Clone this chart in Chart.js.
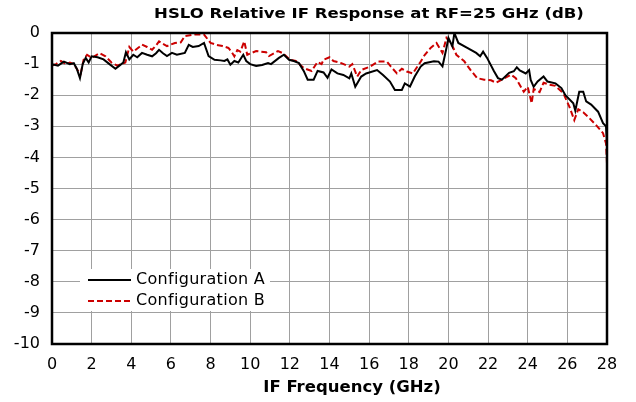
<!DOCTYPE html>
<html>
<head>
<meta charset="utf-8">
<script src="https://cdn.jsdelivr.net/npm/chart.js@4/dist/chart.umd.min.js"></script>
<style>
  html, body { margin: 0; padding: 0; background: #fff; }
  canvas { display: block; }
</style>
</head>
<body>
<canvas id="grafico" width="636" height="402"></canvas>
<script>
// Configuration A (linha preta)
const freqA = [0, 0.3, 0.6, 0.9, 1.1, 1.25, 1.41, 1.55, 1.7, 1.85, 2.0, 2.3, 2.6, 2.9, 3.2, 3.4, 3.6, 3.73, 3.9, 4.1,
  4.3, 4.54, 4.8, 5.05, 5.25, 5.4, 5.6, 5.8, 6.05, 6.3, 6.7, 6.9, 7.1, 7.4, 7.67, 7.9, 8.2, 8.5, 8.7, 8.85,
  9.0, 9.2, 9.4, 9.65, 9.8, 10.0, 10.3, 10.6, 10.9, 11.05, 11.45, 11.7, 11.96, 12.2, 12.46, 12.7, 12.9, 13.2, 13.4, 13.7,
  13.9, 14.1, 14.4, 14.7, 15.0, 15.1, 15.3, 15.6, 15.85, 16.4, 16.7, 17.05, 17.3, 17.65, 17.8, 18.06, 18.3, 18.6, 18.8, 19.27,
  19.5, 19.7, 19.9, 20.0, 20.2, 20.3, 20.5, 20.95, 21.4, 21.6, 21.75, 21.95, 22.3, 22.5, 22.7, 23.06, 23.3, 23.45, 23.6, 23.9,
  24.07, 24.15, 24.3, 24.5, 24.8, 25.0, 25.4, 25.7, 25.9, 26.3, 26.4, 26.6, 26.8, 26.95, 27.2, 27.55, 27.8, 27.95, 28.0];
const valA = [-1.0, -1.05, -0.92, -1.0, -0.97, -1.15, -1.45, -1.0, -0.8, -0.95, -0.75, -0.78, -0.85, -1.0, -1.15, -1.05, -0.95, -0.62, -0.85, -0.7,
  -0.78, -0.64, -0.7, -0.75, -0.65, -0.54, -0.65, -0.74, -0.64, -0.7, -0.64, -0.38, -0.45, -0.42, -0.32, -0.74, -0.86, -0.88, -0.9, -0.85,
  -1.02, -0.9, -0.95, -0.7, -0.9, -1.0, -1.06, -1.03, -0.97, -1.0, -0.8, -0.7, -0.86, -0.9, -0.97, -1.22, -1.5, -1.5, -1.22, -1.27,
  -1.44, -1.17, -1.3, -1.35, -1.46, -1.3, -1.73, -1.4, -1.3, -1.19, -1.35, -1.56, -1.83, -1.83, -1.62, -1.72, -1.4, -1.08, -0.97, -0.91,
  -0.92, -1.07, -0.48, -0.16, -0.43, 0.0, -0.32, -0.48, -0.64, -0.75, -0.6, -0.8, -1.23, -1.45, -1.5, -1.28, -1.23, -1.1, -1.2, -1.3,
  -1.19, -1.51, -1.73, -1.56, -1.4, -1.56, -1.62, -1.77, -2.0, -2.26, -2.5, -1.89, -1.89, -2.2, -2.3, -2.53, -2.9, -3.0, -3.55];

// Configuration B (linha vermelha tracejada)
const freqB = [0, 0.2, 0.45, 0.7, 0.9, 1.1, 1.3, 1.45, 1.6, 1.77, 2.0, 2.4, 2.7, 3.0, 3.3, 3.5, 3.7, 3.9, 4.1, 4.4,
  4.54, 4.8, 5.05, 5.25, 5.4, 5.6, 5.8, 6.2, 6.5, 6.7, 7.2, 7.67, 8.0, 8.3, 8.6, 8.9, 9.05, 9.2, 9.35, 9.5,
  9.7, 9.85, 10.3, 10.8, 10.95, 11.4, 11.65, 12.0, 12.3, 12.7, 13.1, 13.4, 13.6, 13.7, 14.0, 14.2, 14.6, 15.0, 15.15, 15.4,
  15.6, 16.05, 16.45, 16.9, 17.1, 17.4, 17.65, 17.9, 18.2, 18.55, 18.8, 19.1, 19.4, 19.7, 19.9, 20.1, 20.25, 20.4, 20.8, 21.1,
  21.45, 21.8, 22.15, 22.4, 22.7, 23.16, 23.4, 23.8, 24.0, 24.2, 24.3, 24.6, 24.8, 25.1, 25.4, 25.8, 26.1, 26.35, 26.55, 26.8,
  27.1, 27.45, 27.8, 27.95, 28.0];
const valB = [-1.05, -1.0, -0.9, -1.0, -0.95, -1.0, -1.2, -1.3, -0.85, -0.7, -0.8, -0.65, -0.75, -0.95, -1.05, -1.0, -0.95, -0.45, -0.6, -0.45,
  -0.37, -0.45, -0.54, -0.4, -0.27, -0.35, -0.42, -0.32, -0.3, -0.1, -0.05, -0.05, -0.32, -0.38, -0.42, -0.48, -0.6, -0.75, -0.55, -0.6,
  -0.27, -0.7, -0.58, -0.62, -0.74, -0.58, -0.65, -0.86, -0.9, -1.13, -1.22, -0.93, -1.0, -0.86, -0.78, -0.9, -0.97, -1.08, -1.0, -1.4,
  -1.19, -1.08, -0.92, -0.92, -1.08, -1.3, -1.15, -1.24, -1.3, -0.97, -0.71, -0.48, -0.32, -0.64, -0.16, -0.32, -0.48, -0.7, -0.91, -1.18,
  -1.45, -1.5, -1.52, -1.6, -1.5, -1.34, -1.45, -1.89, -1.73, -2.26, -1.8, -1.9, -1.6, -1.66, -1.7, -1.94, -2.37, -2.8, -2.45, -2.55,
  -2.73, -2.96, -3.22, -3.55, -4.2];

const rotulos = ["Configuration A", "Configuration B"];
const titulo = "HSLO Relative IF Response at RF=25 GHz (dB)";
const tituloX = "IF Frequency (GHz)";

const pontos = (xs, ys) => xs.map((x, i) => ({ x: x, y: ys[i] }));

// texto esticado na horizontal (o original tem as letras mais largas)
function textoLargo(ctx, texto, x, y, escala) {
    ctx.save();
    ctx.translate(x, y);
    ctx.scale(escala, 1);
    ctx.fillText(texto, 0, 0);
    ctx.restore();
}

// Moldura preta em volta da área do gráfico, legenda interna e títulos
const extras = {
    id: "extras",
    afterDraw(chart) {
        const ctx = chart.ctx;
        const a = chart.chartArea;
        ctx.save();

        // legenda com fundo branco
        ctx.fillStyle = "#fff";
        ctx.fillRect(80, 269, 190, 42);
        ctx.font = "16px 'DejaVu Sans'";
        ctx.textBaseline = "middle";
        ctx.lineWidth = 2;
        ctx.strokeStyle = "#000";
        ctx.beginPath(); ctx.moveTo(88, 280); ctx.lineTo(131, 280); ctx.stroke();
        ctx.strokeStyle = "#cc0000";
        ctx.setLineDash([6, 3]);
        ctx.beginPath(); ctx.moveTo(88, 301); ctx.lineTo(131, 301); ctx.stroke();
        ctx.setLineDash([]);
        ctx.fillStyle = "#000";
        ctx.letterSpacing = "0.3px";
        ctx.fillText(rotulos[0], 136, 280);
        ctx.fillText(rotulos[1], 136, 301);
        ctx.letterSpacing = "0px";

        // moldura
        ctx.strokeStyle = "#000";
        ctx.lineWidth = 2.5;
        ctx.strokeRect(a.left, a.top, a.right - a.left, a.bottom - a.top);

        // títulos
        ctx.textAlign = "center";
        ctx.textBaseline = "middle";
        ctx.font = "bold 14px 'DejaVu Sans'";
        textoLargo(ctx, titulo, 369, 14, 1.18);
        ctx.font = "bold 15px 'DejaVu Sans'";
        textoLargo(ctx, tituloX, 352, 388, 1.1);
        ctx.restore();
    }
};

const ctxGrafico = document.getElementById("grafico").getContext("2d");
new Chart(ctxGrafico, {
    type: "line",
    data: {
        datasets: [{
            label: rotulos[0],
            data: pontos(freqA, valA),
            borderColor: "#000",
            borderWidth: 2,
            pointRadius: 0,
            tension: 0,
            fill: false
        }, {
            label: rotulos[1],
            data: pontos(freqB, valB),
            borderColor: "#cc0000",
            borderWidth: 2,
            borderDash: [6, 3],
            pointRadius: 0,
            tension: 0,
            fill: false
        }]
    },
    options: {
        responsive: false,
        animation: false,
        layout: { padding: { left: 0, right: 29, top: 33, bottom: 0 } },
        plugins: {
            legend: { display: false },
            tooltip: { enabled: false }
        },
        scales: {
            x: {
                type: "linear",
                min: 0,
                max: 28,
                afterFit: s => { s.height = 58; },
                grid: { color: "#a0a0a0", lineWidth: 1, drawTicks: false },
                border: { display: false },
                ticks: {
                    stepSize: 2,
                    padding: 11,
                    color: "#000",
                    font: { family: "'DejaVu Sans'", size: 16 }
                }
            },
            y: {
                min: -10,
                max: 0,
                afterFit: s => { s.width = 52; },
                grid: { color: "#a0a0a0", lineWidth: 1, drawTicks: false },
                border: { display: false },
                ticks: {
                    stepSize: 1,
                    padding: 12,
                    color: "#000",
                    font: { family: "'DejaVu Sans'", size: 16 }
                }
            }
        }
    },
    plugins: [extras]
});
</script>
</body>
</html>
